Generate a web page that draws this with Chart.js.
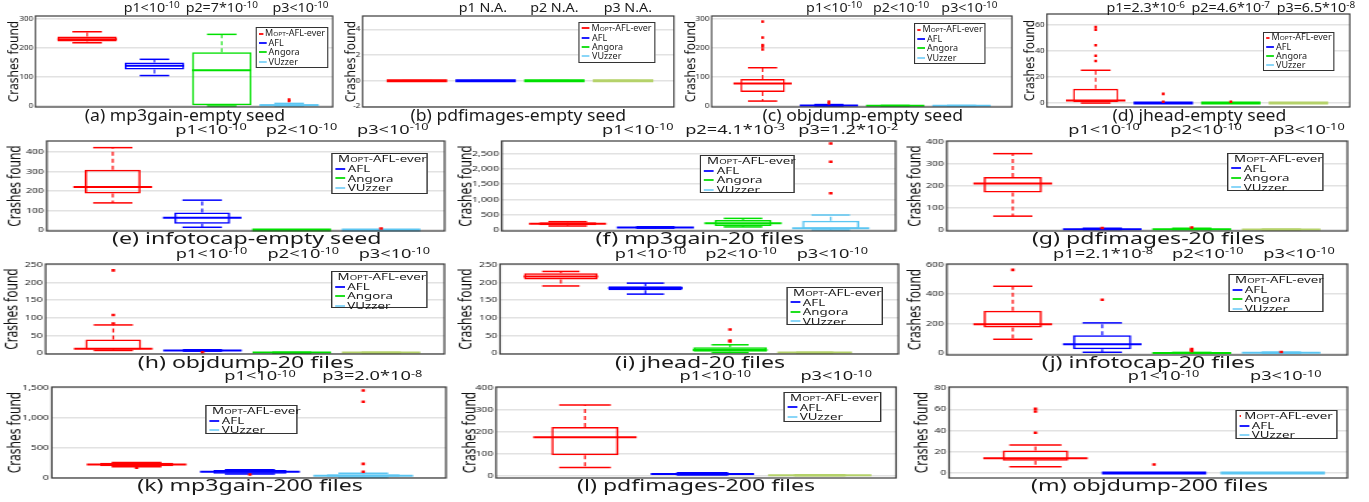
<!DOCTYPE html>
<html>
<head>
<meta charset="utf-8">
<script src="https://cdn.jsdelivr.net/npm/chart.js@4.4.1/dist/chart.umd.min.js"></script>
<style>
html, body { margin: 0; padding: 0; background: #fff; }
body { width: 1369px; height: 502px; position: relative; overflow: hidden; font-family: 'Noto Sans', 'Open Sans', sans-serif; color: #1a1a1a; }
.panel { position: absolute; top: 0; width: 0; height: 0; transform-origin: 0 0; }
.panel canvas { position: absolute; left: 0; }
.ptxt { position: absolute; width: 160px; text-align: center; white-space: nowrap; font-size: 13px; line-height: 13px; transform-origin: 50% 50%; }
.ptxt sup { font-size: 0.7em; vertical-align: 0; position: relative; top: -0.38em; line-height: 0; }
.cap { position: absolute; width: 400px; text-align: center; white-space: nowrap; }
.lg { position: absolute; box-sizing: border-box; border: 1px solid #333; background: #fff; display: flex; flex-direction: column; justify-content: space-evenly; padding: 0 2px; white-space: nowrap; line-height: 1; }
.lg div { display: flex; align-items: center; }
.lg i { display: inline-block; width: 7px; height: 2px; margin-right: 2px; }
.lg .sc { font-size: 0.72em; }
</style>
</head>
<body>
<script>
// fuzzers compared in each panel
const fuzzers4 = ['MOPT-AFL-ever', 'AFL', 'Angora', 'VUzzer'];
const fuzzers3 = ['MOPT-AFL-ever', 'AFL', 'VUzzer'];

// box summaries per fuzzer: [min, q1, median, q3, max]
const mp3gainEmpty = [[218, 222, 230, 240, 256], [105, 126, 139, 150, 161], [0, 0, 123, 185, 247], [0, 1, 3, 6, 9]];
const mp3gainEmptyOut = [[], [], [], [22, 17]];
const pdfimagesEmpty = [[0, 0, 0, 0, 0], [0, 0, 0, 0, 0], [0, 0, 0, 0, 0], [0, 0, 0, 0, 0]];
const pdfimagesEmptyOut = [[], [], [], []];
const objdumpEmpty = [[17, 48, 78, 93, 132], [0, 0, 2, 3, 5], [0, 0, 1, 1, 2], [0, 0, 1, 1, 2]];
const objdumpEmptyOut = [[291, 236, 210, 205, 195], [15, 9], [], []];
const jheadEmpty = [[0, 0, 2, 11, 25], [0, 0, 0, 0, 0], [0, 0, 0, 0, 0], [0, 0, 0, 0, 0]];
const jheadEmptyOut = [[58, 56, 44, 36, 32], [7, 1], [1], []];
const infotocapEmpty = [[139, 187, 221, 309, 422], [14, 32, 63, 90, 153], [0, 0, 0, 0, 0], [0, 0, 0, 0, 0]];
const infotocapEmptyOut = [[], [], [], [8]];
const mp3gain20 = [[130, 152, 206, 250, 272], [60, 70, 85, 95, 105], [100, 130, 220, 326, 380], [0, 30, 60, 305, 490]];
const mp3gain20Out = [[], [], [], [1200, 2230, 2830]];
const pdfimages20 = [[63, 170, 211, 241, 347], [2, 3, 4, 6, 8], [2, 3, 4, 6, 8], [0, 1, 2, 3, 4]];
const pdfimages20Out = [[], [9], [11], []];
const objdump20 = [[8, 11, 13, 39, 80], [6, 7, 8, 9, 10], [0, 1, 2, 2, 3], [0, 1, 2, 2, 3]];
const objdump20Out = [[234, 108, 84], [3], [], []];
const jhead20 = [[190, 208, 217, 226, 231], [167, 178, 184, 189, 198], [2, 4, 9, 17, 24], [0, 1, 2, 2, 3]];
const jhead20Out = [[], [], [67, 36, 33], []];
const infotocap20 = [[95, 174, 197, 289, 454], [7, 27, 61, 122, 206], [0, 1, 2, 4, 6], [0, 2, 4, 6, 8]];
const infotocap20Out = [[565], [362], [29, 22, 15], [9]];
const mp3gain200 = [[185, 194, 222, 250, 256], [62, 70, 100, 130, 136], [5, 17, 35, 60, 75]];
const mp3gain200Out = [[170], [55], [1460, 1270, 233, 100]];
const pdfimages200 = [[37, 93, 175, 222, 322], [3, 5, 8, 11, 13], [0, 1, 2, 3, 4]];
const pdfimages200Out = [[], [], []];
const objdump200 = [[6, 11.6, 14, 21.3, 26.3], [0, 0, 0, 0, 0], [0, 0, 0, 0, 0]];
const objdump200Out = [[60.5, 58, 38], [8], []];

// p-values printed above each panel
const pAllLow = ['p1<10^-10', 'p2<10^-10', 'p3<10^-10'];
const pMp3gainEmpty = ['p1<10^-10', 'p2=7*10^-10', 'p3<10^-10'];
const pPdfimagesEmpty = ['p1 N.A.', 'p2 N.A.', 'p3 N.A.'];
const pJheadEmpty = ['p1=2.3*10^-6', 'p2=4.6*10^-7', 'p3=6.5*10^-8'];
const pMp3gain20 = ['p1<10^-10', 'p2=4.1*10^-3', 'p3=1.2*10^-2'];
const pInfotocap20 = ['p1=2.1*10^-8', 'p2<10^-10', 'p3<10^-10'];
const pMp3gain200 = ['p1<10^-10', 'p3=2.0*10^-8'];
const pLow200 = ['p1<10^-10', 'p3<10^-10'];

// y tick labels
const ticks300 = [0, 100, 200, 300];
const ticksPdfEmpty = [-2, 0, 2, 4];
const ticks60 = [0, 20, 40, 60];
const ticks400 = [0, 100, 200, 300, 400];
const ticks2500 = [0, 500, 1000, 1500, 2000, 2500];
const ticks250 = [0, 50, 100, 150, 200, 250];
const ticks600 = [0, 200, 400, 600];
const ticks1500 = [0, 500, 1000, 1500];
const ticks80 = [0, 20, 40, 60, 80];

const captions = ['(a) mp3gain-empty seed', '(b) pdfimages-empty seed', '(c) objdump-empty seed', '(d) jhead-empty seed',
  '(e) infotocap-empty seed', '(f) mp3gain-20 files', '(g) pdfimages-20 files',
  '(h) objdump-20 files', '(i) jhead-20 files', '(j) infotocap-20 files',
  '(k) mp3gain-200 files', '(l) pdfimages-200 files', '(m) objdump-200 files'];

const COLORS = { 'MOPT-AFL-ever': '#ff0000', 'AFL': '#0000ff', 'Angora': '#00e000', 'VUzzer': '#5cc6f2' };
const LEGEND_COLORS = { 'MOPT-AFL-ever': '#ff2020', 'AFL': '#2020ff', 'Angora': '#20e020', 'VUzzer': '#8ad6f8' };
const FONT = "'Noto Sans', 'Open Sans', sans-serif";
const BOX_W = 0.88;
const TINT = '#b5d26a';

// per-row look (horizontal stretch, text baselines, font sizes)
const rowStyle = [
  { s: 1.1, pBase: 12, capBase: 120.7, capSize: 16, legSize: 8.2 },
  { s: 1.4, pBase: 134, capBase: 245, capSize: 16.5, legSize: 9.5 },
  { s: 1.4, pBase: 258, capBase: 368.5, capSize: 16.5, legSize: 9.5 },
  { s: 1.4, pBase: 380.5, capBase: 492, capSize: 16.5, legSize: 9.5 }
];

// frame = [left, top, right, bottom] of the plot box on the page
const panels = [
  { stats: mp3gainEmpty, out: mp3gainEmptyOut, names: fuzzers4, p: pMp3gainEmpty, ticks: ticks300, caption: captions[0],
    row: 0, frame: [35, 16, 334, 107], y: [-3.4, 310.3], x: [0.232, 4.648], titleX: 13.5, pAt: [1.96, 3.0, 4.17], legend: [255, 27, 328, 68] },
  { stats: pdfimagesEmpty, out: pdfimagesEmptyOut, names: fuzzers4, p: pPdfimagesEmpty, ticks: ticksPdfEmpty, caption: captions[1],
    row: 0, frame: [362.7, 16, 674, 107], y: [-2.05, 5.04], x: [0.21, 4.74], titleX: 351, pAt: [1.96, 3.0, 4.07], legend: [579, 21.7, 655, 62.7], tint: TINT },
  { stats: objdumpEmpty, out: objdumpEmptyOut, names: fuzzers4, p: pAllLow, ticks: ticks300, caption: captions[2],
    row: 0, frame: [711.7, 16, 1014, 107], y: [-3.4, 310.3], x: [0.231, 4.76], titleX: 691, pAt: [2.08, 3.09, 4.12], legend: [914, 23, 986, 64] },
  { stats: jheadEmpty, out: jheadEmptyOut, names: fuzzers4, p: pJheadEmpty, ticks: ticks60, caption: captions[3],
    row: 0, frame: [1047, 14, 1352, 107], y: [-3, 67.9], x: [0.279, 4.76], titleX: 1030, pAt: [1.74, 3.0, 4.26], legend: [1263, 31.7, 1335, 71], tint: TINT },
  { stats: infotocapEmpty, out: infotocapEmptyOut, names: fuzzers4, p: pAllLow, ticks: ticks400, caption: captions[4],
    row: 1, frame: [46.7, 140.7, 446.7, 231], y: [-5, 456], x: [0.263, 4.71], titleX: 15, pAt: [2.1, 3.11, 4.13], legend: [331, 153, 428, 194] },
  { stats: mp3gain20, out: mp3gain20Out, names: fuzzers4, p: pMp3gain20, ticks: ticks2500, caption: captions[5],
    row: 1, frame: [501.7, 140.7, 898, 231], y: [-33, 2911], x: [0.249, 4.74], titleX: 466, pAt: [1.8, 2.91, 4.2], legend: [700, 155, 795, 193.3] },
  { stats: pdfimages20, out: pdfimages20Out, names: fuzzers4, p: pAllLow, ticks: ticks400, caption: captions[6],
    row: 1, frame: [946.7, 140.7, 1350, 231], y: [-4.5, 404.5], x: [0.263, 4.74], titleX: 915, pAt: [2.02, 3.16, 4.31], legend: [1227, 152.7, 1323, 191], tint: TINT },
  { stats: objdump20, out: objdump20Out, names: fuzzers4, p: pAllLow, ticks: ticks250, caption: captions[7],
    row: 2, frame: [46, 264.3, 446.7, 354], y: [-2, 252], x: [0.242, 4.71], titleX: 12.5, pAt: [2.1, 3.13, 4.15], legend: [331, 271, 428, 308.3], tint: TINT },
  { stats: jhead20, out: jhead20Out, names: fuzzers4, p: pAllLow, ticks: ticks250, caption: captions[8],
    row: 2, frame: [500, 264.3, 900, 354], y: [-2, 252], x: [0.282, 4.99], titleX: 466, pAt: [2.06, 3.13, 4.21], legend: [786, 286.7, 883, 325], tint: TINT },
  { stats: infotocap20, out: infotocap20Out, names: fuzzers4, p: pInfotocap20, ticks: ticks600, caption: captions[9],
    row: 2, frame: [946.7, 264.3, 1350, 355], y: [-11.5, 604.8], x: [0.263, 4.74], titleX: 915, pAt: [2.01, 3.18, 4.2], legend: [1228, 274, 1323, 312.3] },
  { stats: mp3gain200, out: mp3gain200Out, names: fuzzers3, p: pMp3gain200, ticks: ticks1500, caption: captions[10],
    row: 3, frame: [51.7, 387.3, 448.3, 478.3], y: [-3, 1517], x: [0.252, 3.73], titleX: 15, pAt: [2.09, 3.08], legend: [205, 405, 298, 434] },
  { stats: pdfimages200, out: pdfimages200Out, names: fuzzers3, p: pLow200, ticks: ticks400, caption: captions[11],
    row: 3, frame: [496, 387.3, 896, 478.3], y: [-10.5, 404.6], x: [0.243, 3.65], titleX: 470, pAt: [2.11, 3.14], legend: [783, 391.7, 882, 421.7], tint: TINT },
  { stats: objdump200, out: objdump200Out, names: fuzzers3, p: pLow200, ticks: ticks80, caption: captions[12],
    row: 3, frame: [949, 387.3, 1350, 478.3], y: [-4.7, 81], x: [0.272, 3.63], titleX: 922, pAt: [2.08, 3.11], legend: [1235, 410, 1337, 439.3] }
];

// whiskers, caps and medians, placed through the chart scales
const boxPlugin = {
  id: 'boxWhiskers',
  beforeDatasetsDraw(chart) {
    const ds = chart.data.datasets[0];
    const xs = chart.scales.x, ys = chart.scales.y, ctx = chart.ctx;
    const half = xs.getPixelForValue(1 + BOX_W / 2) - xs.getPixelForValue(1);
    const seg = (x1, y1, x2, y2) => { ctx.beginPath(); ctx.moveTo(x1, y1); ctx.lineTo(x2, y2); ctx.stroke(); };
    ctx.save();
    ds.stats.forEach((st, i) => {
      const [lo, q1, med, q3, hi] = st.map(v => ys.getPixelForValue(v));
      const x = xs.getPixelForValue(i + 1);
      ctx.strokeStyle = ds.lineColors[i];
      ctx.lineWidth = 1.2;
      ctx.setLineDash([4, 3]);
      seg(x, q3, x, hi);
      seg(x, q1, x, lo);
      ctx.setLineDash([]);
      ctx.lineWidth = 1.5;
      seg(x - half / 2, hi, x + half / 2, hi);
      seg(x - half / 2, lo, x + half / 2, lo);
      // a collapsed box reads as one thick bar in the reference
      ctx.lineWidth = st[1] === st[3] ? 3 : 2;
      seg(x - half, med, x + half, med);
    });
    ctx.restore();
  }
};

// box around the plot area
const framePlugin = {
  id: 'frame',
  afterDraw(chart) {
    const { left, top, right, bottom } = chart.chartArea;
    const ctx = chart.ctx;
    ctx.save();
    ctx.strokeStyle = '#3a3a3a';
    ctx.lineWidth = 1.2;
    ctx.strokeRect(left, top, right - left, bottom - top);
    ctx.restore();
  }
};

function fmtP(txt) {
  const parts = txt.split('^');
  let html = parts[0].replace(/</g, '&lt;');
  if (parts[1]) html += '<sup>' + parts[1] + '</sup>';
  return html;
}

function buildPanel(p) {
  const rs = rowStyle[p.row];
  const s = rs.s;
  const [fl, ft, fr, fb] = p.frame;
  const W = (fl - p.titleX) / s + 7.2;
  const innerW = (fr - fl) / s;
  const cw = Math.ceil(W + innerW) + 2;
  const ch = Math.round(fb - ft) + 16;
  const x0 = fl - s * W;

  const wrap = document.createElement('div');
  wrap.className = 'panel';
  wrap.style.left = x0 + 'px';
  wrap.style.transform = 'scaleX(' + s + ')';
  document.body.appendChild(wrap);

  const canvas = document.createElement('canvas');
  canvas.width = cw;
  canvas.height = ch;
  canvas.style.top = (ft - 8) + 'px';
  wrap.appendChild(canvas);

  const lineColors = p.names.map(n => COLORS[n]);
  if (p.tint) lineColors[lineColors.length - 1] = p.tint;
  const outPts = [];
  p.out.forEach((vals, i) => vals.forEach(v => outPts.push({ x: i + 1, y: v })));

  const chart = new Chart(canvas, {
    type: 'bar',
    data: {
      datasets: [{
        type: 'bar',
        label: 'box',
        data: p.stats.map((st, i) => ({ x: i + 1, y: [st[1], st[3]] })),
        stats: p.stats,
        lineColors: lineColors,
        backgroundColor: 'rgba(0,0,0,0)',
        borderColor: lineColors,
        borderWidth: 1.5,
        borderSkipped: false,
        categoryPercentage: BOX_W,
        barPercentage: 1,
        grouped: false,
        order: 1
      }, {
        type: 'scatter',
        label: 'outliers',
        data: outPts,
        pointStyle: 'rect',
        pointRadius: 1.8,
        backgroundColor: '#ff0000',
        borderColor: '#ff0000',
        borderWidth: 0,
        order: 0
      }]
    },
    options: {
      responsive: false,
      animation: false,
      devicePixelRatio: 1,
      locale: 'en-US',
      layout: { padding: { top: 8, bottom: 8, left: 0, right: cw - W - innerW } },
      plugins: { legend: { display: false }, tooltip: { enabled: false } },
      scales: {
        x: { type: 'linear', min: p.x[0], max: p.x[1], offset: false, display: false },
        y: {
          min: p.y[0],
          max: p.y[1],
          afterFit: sc => { sc.width = W; },
          afterBuildTicks: sc => { sc.ticks = p.ticks.map(v => ({ value: v })); },
          grid: { color: '#e2e2e2', lineWidth: 1.5, drawTicks: false },
          border: { display: false },
          ticks: { font: { family: FONT, size: 7.5 }, color: '#222', padding: 2, autoSkip: false },
          title: { display: true, text: 'Crashes found', font: { family: FONT, size: 12 }, color: '#111', padding: 0 }
        }
      }
    },
    plugins: [boxPlugin, framePlugin]
  });

  // p-values above the groups
  const xs = chart.scales.x;
  p.p.forEach((txt, k) => {
    const d = document.createElement('div');
    d.className = 'ptxt';
    d.innerHTML = fmtP(txt);
    d.style.left = (xs.getPixelForValue(p.pAt[k]) - 80) + 'px';
    d.style.top = (rs.pBase - 11.5) + 'px';
    wrap.appendChild(d);
  });

  // legend
  const [ll, lt, lr, lb] = p.legend;
  const lg = document.createElement('div');
  lg.className = 'lg';
  lg.style.left = ((ll - x0) / s) + 'px';
  lg.style.width = ((lr - ll) / s) + 'px';
  lg.style.top = lt + 'px';
  lg.style.height = (lb - lt) + 'px';
  lg.style.fontSize = rs.legSize + 'px';
  p.names.forEach(n => {
    const row = document.createElement('div');
    row.innerHTML = '<i style="background:' + LEGEND_COLORS[n] + '"></i><span>' +
      n.replace('MOPT', 'M<span class="sc">OPT</span>') + '</span>';
    lg.appendChild(row);
  });
  wrap.appendChild(lg);

  // caption under the panel
  const cap = document.createElement('div');
  cap.className = 'cap';
  cap.textContent = p.caption;
  cap.style.fontSize = rs.capSize + 'px';
  cap.style.lineHeight = rs.capSize + 'px';
  cap.style.left = (W + innerW / 2 - 200) + 'px';
  cap.style.top = (rs.capBase - rs.capSize * 0.887) + 'px';
  wrap.appendChild(cap);
}

panels.forEach(buildPanel);
</script>
</body>
</html>
